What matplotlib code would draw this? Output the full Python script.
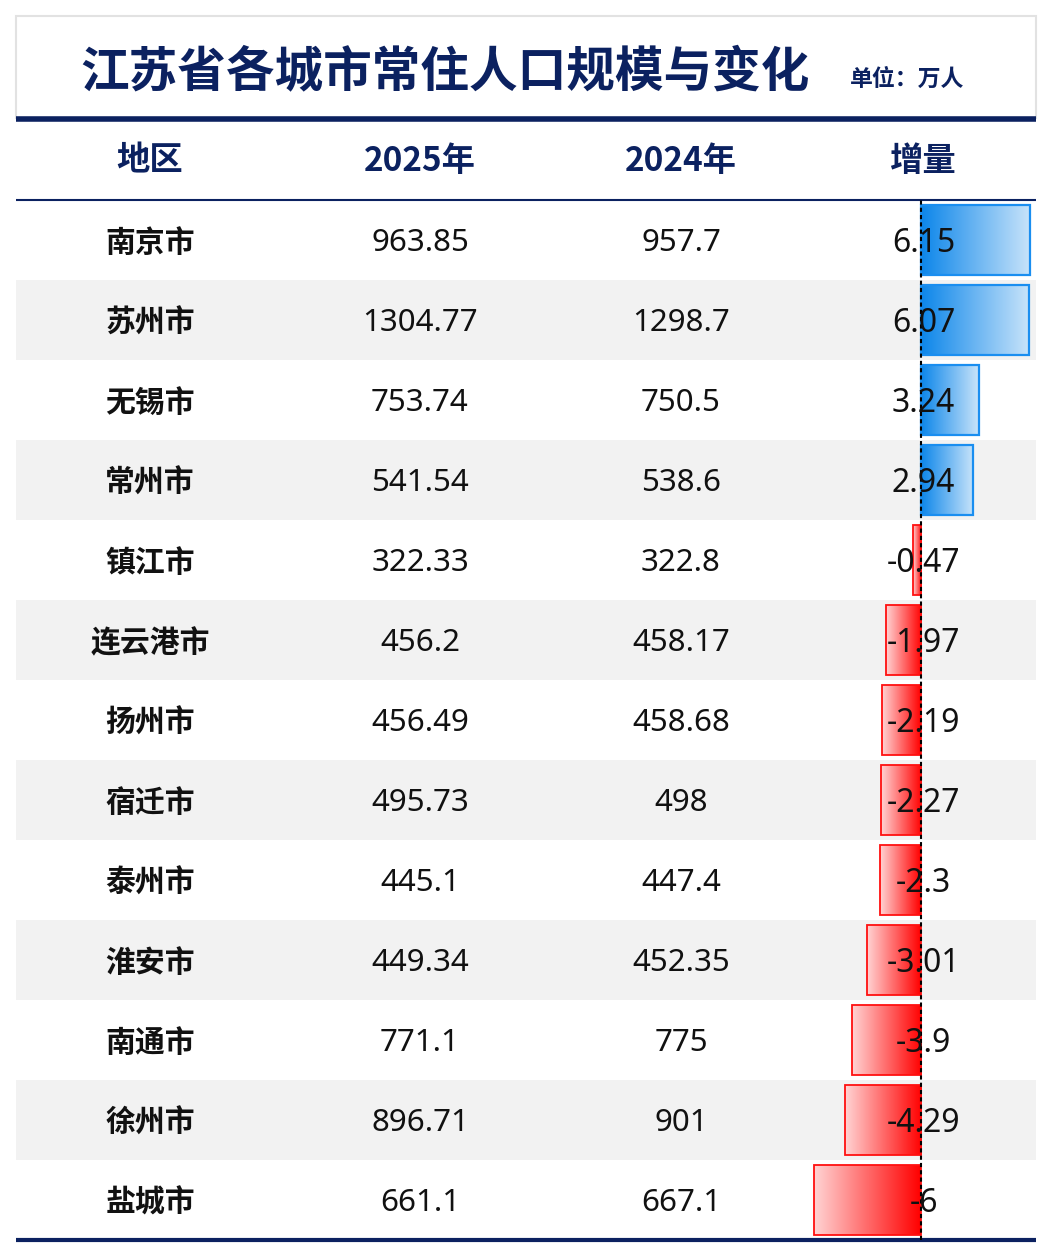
import numpy as np
import matplotlib.pyplot as plt
from matplotlib.colors import LinearSegmentedColormap
from matplotlib.patches import Rectangle

plt.rcParams['font.family'] = ['Noto Sans', 'Noto Sans CJK SC', 'DejaVu Sans']

title = "江苏省各城市常住人口规模与变化"
unit = "单位：万人"
headers = ["地区", "2025年", "2024年", "增量"]
cities = ["南京市", "苏州市", "无锡市", "常州市", "镇江市", "连云港市", "扬州市",
          "宿迁市", "泰州市", "淮安市", "南通市", "徐州市", "盐城市"]
pop_2025 = ["963.85", "1304.77", "753.74", "541.54", "322.33", "456.2", "456.49",
            "495.73", "445.1", "449.34", "771.1", "896.71", "661.1"]
pop_2024 = ["957.7", "1298.7", "750.5", "538.6", "322.8", "458.17", "458.68",
            "498", "447.4", "452.35", "775", "901", "667.1"]
change = [6.15, 6.07, 3.24, 2.94, -0.47, -1.97, -2.19, -2.27, -2.3, -3.01, -3.9, -4.29, -6]

navy = "#0b2160"
W, H = 1052, 1256
fig = plt.figure(figsize=(W / 100, H / 100), dpi=100)

# table drawn in pixel coordinates
ax = fig.add_axes([0, 0, 1, 1])
ax.set_xlim(0, W)
ax.set_ylim(H, 0)
ax.axis("off")

ax.add_patch(Rectangle((16, 16), 1020, 102, facecolor="white", edgecolor="#e2e2e2", lw=1.5))
ax.text(445, 72, title, fontsize=35, fontweight="bold", color=navy,
        family=['Noto Sans CJK SC'], ha="center", va="center")
ax.text(907, 79, unit, fontsize=16.5, fontweight="bold", color=navy,
        family=['Noto Sans CJK SC'], ha="center", va="center")
ax.plot([16, 1036], [118.5, 118.5], color=navy, lw=4, solid_capstyle="butt")

col_x = [150, 420, 681, 922]
for x, h in zip(col_x, headers):
    ax.text(x, 161, h, fontsize=24, fontweight="bold", color=navy,
            family=['Noto Sans CJK SC'], ha="center", va="center")
ax.plot([16, 1036], [200, 200], color=navy, lw=1.5, solid_capstyle="butt")

row_h = 80
top = 200
for i, city in enumerate(cities):
    yc = top + row_h * i + row_h / 2 + 3
    if i % 2 == 1:
        ax.add_patch(Rectangle((16, top + row_h * i), 1020, row_h, facecolor="#f2f2f2",
                               edgecolor="none", zorder=0))
    ax.text(col_x[0], yc, city, fontsize=21.5, fontweight="bold", color="#111111",
            family=['Noto Sans CJK SC'], ha="center", va="center")
    ax.text(col_x[1], yc, pop_2025[i], fontsize=22.5, color="#111111", ha="center", va="center")
    ax.text(col_x[2], yc, pop_2024[i], fontsize=22.5, color="#111111", ha="center", va="center")

bottom = top + row_h * len(cities)
ax.plot([16, 1036], [bottom, bottom], color=navy, lw=3, solid_capstyle="butt")

# bars for the change column
bx0, bx1 = 800, 1040
bax = fig.add_axes([bx0 / W, (H - bottom) / H, (bx1 - bx0) / W, (bottom - top) / H])
bax.patch.set_alpha(0)
px_per_unit = 17.8
zero_px = 921
bax.set_xlim(-(zero_px - bx0) / px_per_unit, (bx1 - zero_px) / px_per_unit)
bax.set_ylim(len(cities) - 0.5, -0.5)
bax.axis("off")

blue_cmap = LinearSegmentedColormap.from_list("b", ["#0c86ea", "#c9e4fa"])
red_cmap = LinearSegmentedColormap.from_list("r", ["#ffd4d4", "#ff0000"])
grad = np.linspace(0, 1, 256).reshape(1, -1)
bh = 0.875
ypos = np.arange(len(cities))
bars = bax.barh(ypos, change, height=bh, color="none", zorder=3)
for b, v in zip(bars, change):
    y0 = b.get_y()
    if v >= 0:
        im = bax.imshow(grad, cmap=blue_cmap, aspect="auto",
                        extent=[0, v, y0 + bh, y0], zorder=2)
        b.set_edgecolor("#1a8ef0")
        b.set_linewidth(1.6)
    else:
        im = bax.imshow(grad, cmap=red_cmap, aspect="auto",
                        extent=[v, 0, y0 + bh, y0], zorder=2)
        b.set_edgecolor("#ff1010")
        b.set_linewidth(1.3)
    im.set_clip_path(b)
bax.set_xlim(-(zero_px - bx0) / px_per_unit, (bx1 - zero_px) / px_per_unit)
bax.set_ylim(len(cities) - 0.5, -0.5)

bax.axvline(0, color="black", lw=1.5, ls=(0, (2, 1.5)), zorder=4)
for y, v in zip(ypos, change):
    bax.text(0.15, y + 0.04, f"{v:g}", fontsize=23, color="#111111", ha="center", va="center",
             zorder=5)

fig.savefig("out.png", dpi=100, facecolor="white")
